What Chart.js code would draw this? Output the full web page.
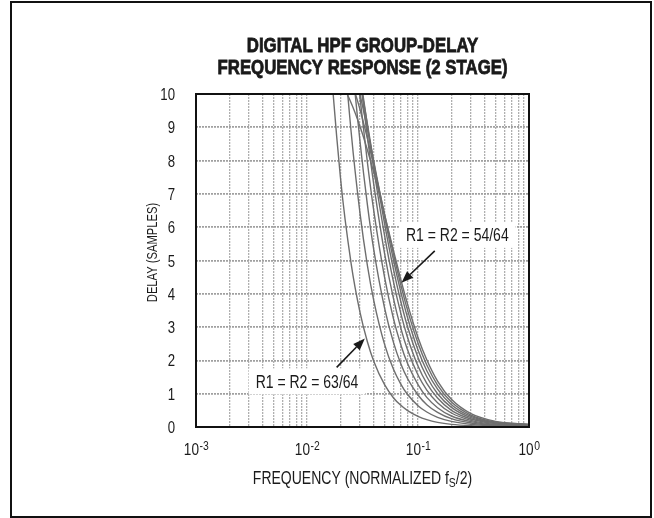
<!DOCTYPE html>
<html>
<head>
<meta charset="utf-8">
<script src="https://cdn.jsdelivr.net/npm/chart.js@4.4.0/dist/chart.umd.min.js"></script>
<style>
  html, body { margin: 0; padding: 0; background: #fff; }
  #wrap { position: relative; width: 654px; height: 518px; }
  #frame { position: absolute; left: 10px; top: 1px; width: 638px; height: 513px; border: 2px solid #111; }
  #myChart { position: absolute; left: 0; top: 0; }
</style>
</head>
<body>
<div id="wrap"><div id="frame"></div><canvas id="myChart" width="654" height="518"></canvas></div>
<script>
// frequency (normalized fs/2) and group delay (samples)
const freq = [0.012, 0.015, 0.02, 0.025, 0.03, 0.035, 0.04, 0.05, 0.06, 0.07, 0.08, 0.1, 0.12, 0.15, 0.2, 0.3, 0.5, 1.0];
const delay54 = [11.2, 10.96, 10.38, 9.73, 9.03, 8.32, 7.64, 6.37, 5.31, 4.43, 3.72, 2.69, 2.02, 1.38, 0.83, 0.4, 0.17, 0.08];
const delay55 = [12.5, 12.1, 11.3, 10.4, 9.54, 8.67, 7.85, 6.39, 5.21, 4.27, 3.54, 2.52, 1.86, 1.26, 0.75, 0.36, 0.15, 0.08];
const delay56 = [13.9, 13.3, 12.3, 11.2, 10.0, 8.95, 7.97, 6.31, 5.03, 4.06, 3.32, 2.31, 1.69, 1.14, 0.67, 0.32, 0.13, 0.07];
const delay57 = [15.6, 14.8, 13.4, 11.8, 10.4, 9.1, 7.95, 6.1, 4.75, 3.77, 3.04, 2.09, 1.51, 1.0, 0.59, 0.28, 0.12, 0.06];
const delay58 = [17.7, 16.5, 14.5, 12.4, 10.6, 9.06, 7.74, 5.75, 4.37, 3.41, 2.72, 1.83, 1.31, 0.87, 0.5, 0.24, 0.1, 0.05];
const delay59 = [20.3, 18.4, 15.4, 12.7, 10.5, 8.71, 7.27, 5.21, 3.87, 2.97, 2.34, 1.56, 1.11, 0.73, 0.42, 0.2, 0.08, 0.04];
const delay60 = [23.1, 20.2, 15.9, 12.5, 9.9, 7.95, 6.48, 4.49, 3.26, 2.47, 1.93, 1.27, 0.89, 0.58, 0.33, 0.16, 0.06, 0.03];
const delay61 = [25.8, 21.2, 15.4, 11.3, 8.59, 6.68, 5.31, 3.57, 2.55, 1.9, 1.47, 0.96, 0.67, 0.44, 0.25, 0.12, 0.05, 0.02];
const delay62 = [26.1, 19.7, 12.8, 8.85, 6.43, 4.85, 3.79, 2.48, 1.74, 1.29, 0.99, 0.64, 0.45, 0.29, 0.17, 0.08, 0.03, 0.02];
const delay63 = [18.9, 12.8, 7.5, 4.9, 3.45, 2.56, 1.97, 1.27, 0.88, 0.65, 0.5, 0.32, 0.22, 0.14, 0.08, 0.04, 0.02, 0.01];
const allDelays = [delay54, delay55, delay56, delay57, delay58, delay59, delay60, delay61, delay62, delay63];

// axis ticks
const yTicks = [0, 1, 2, 3, 4, 5, 6, 7, 8, 9, 10];
const decades = [0.001, 0.01, 0.1, 1];
const decadeExp = ['-3', '-2', '-1', '0'];
const mantissas = [1, 2, 3, 4, 5, 6, 7, 8, 9];
const gridFreqs = decades.slice(0, 3).flatMap(d => mantissas.map(m => m * d)).concat([1]);

const titleLines = ['DIGITAL HPF GROUP-DELAY', 'FREQUENCY RESPONSE (2 STAGE)'];
const yTitle = 'DELAY (SAMPLES)';
const notes = [
  { text: 'R1 = R2 = 54/64', at: [0.226, 5.77], from: [0.1416, 5.29], to: [0.071, 4.33] },
  { text: 'R1 = R2 = 63/64', at: [0.01, 1.37], from: [0.0185, 1.79], to: [0.0332, 2.66] }
];

const FONT = '"Liberation Sans", Arial, sans-serif';
const SQUEEZE = 0.8;   // narrow face look
const INK = '#1a1a1a';

// draws condensed text; returns its drawn width
function say(ctx, str, x, y, size, opt) {
  opt = opt || {};
  ctx.save();
  ctx.font = (opt.bold ? 'bold ' : '') + size + 'px ' + FONT;
  ctx.textAlign = 'left';
  ctx.textBaseline = opt.baseline || 'alphabetic';
  const w = ctx.measureText(str).width * SQUEEZE;
  let left = x;
  if (opt.align === 'center') left = x - w / 2;
  if (opt.align === 'right') left = x - w;
  ctx.translate(left, y);
  ctx.scale(SQUEEZE, 1);
  ctx.fillStyle = INK;
  ctx.fillText(str, 0, 0);
  if (opt.heavy) {
    ctx.strokeStyle = INK;
    ctx.lineWidth = opt.heavy;
    ctx.strokeText(str, 0, 0);
  }
  ctx.restore();
  return w;
}

function textWidth(ctx, str, size) {
  ctx.save();
  ctx.font = size + 'px ' + FONT;
  const w = ctx.measureText(str).width * SQUEEZE;
  ctx.restore();
  return w;
}

const extras = {
  id: 'extras',
  afterDatasetsDraw(chart) {
    const {ctx, chartArea: a, scales: {x, y}} = chart;
    ctx.save();
    notes.forEach(n => {
      const cx = x.getPixelForValue(n.at[0]), cy = y.getPixelForValue(n.at[1]);
      const w = textWidth(ctx, n.text, 17.5);
      ctx.fillStyle = '#fff';
      ctx.fillRect(cx - w / 2 - 7, cy - 13, w + 14, 26);
      say(ctx, n.text, cx, cy + 6.5, 17.5, { align: 'center' });
      const x1 = x.getPixelForValue(n.from[0]), y1 = y.getPixelForValue(n.from[1]);
      const x2 = x.getPixelForValue(n.to[0]), y2 = y.getPixelForValue(n.to[1]);
      const ang = Math.atan2(y2 - y1, x2 - x1);
      const hl = 12, hw = 4.5;
      const bx = x2 - hl * Math.cos(ang), by = y2 - hl * Math.sin(ang);
      ctx.strokeStyle = INK;
      ctx.fillStyle = INK;
      ctx.lineWidth = 1.6;
      ctx.beginPath();
      ctx.moveTo(x1, y1);
      ctx.lineTo(bx, by);
      ctx.stroke();
      ctx.beginPath();
      ctx.moveTo(x2, y2);
      ctx.lineTo(bx + hw * Math.sin(ang), by - hw * Math.cos(ang));
      ctx.lineTo(bx - hw * Math.sin(ang), by + hw * Math.cos(ang));
      ctx.closePath();
      ctx.fill();
    });
    // plot frame
    ctx.strokeStyle = '#111';
    ctx.lineWidth = 2;
    ctx.strokeRect(a.left, a.top, a.right - a.left, a.bottom - a.top);
    ctx.restore();
  },
  afterDraw(chart) {
    const {ctx, chartArea: a, scales: {x, y}} = chart;
    const mid = (a.left + a.right) / 2;
    // title
    say(ctx, titleLines[0], mid, 52, 21, { bold: true, align: 'center', heavy: 0.8 });
    say(ctx, titleLines[1], mid, 74, 21, { bold: true, align: 'center', heavy: 0.8 });
    // y tick labels
    yTicks.forEach(v => {
      say(ctx, String(v), a.left - 21, y.getPixelForValue(v) + 6, 16.5, { align: 'right' });
    });
    // y title, rotated
    ctx.save();
    ctx.translate(157, (a.top + a.bottom) / 2 - 8);
    ctx.rotate(-Math.PI / 2);
    say(ctx, yTitle, 0, 0, 14, { align: 'center' });
    ctx.restore();
    // x tick labels 10^n
    decades.forEach((v, i) => {
      const px = x.getPixelForValue(v);
      const w1 = textWidth(ctx, '10', 17);
      const w2 = textWidth(ctx, decadeExp[i], 13);
      const left = px - (w1 + w2) / 2;
      say(ctx, '10', left, a.bottom + 28, 17);
      say(ctx, decadeExp[i], left + w1 + 0.5, a.bottom + 23, 13);
    });
    // x axis title with subscript S
    const parts = [['FREQUENCY (NORMALIZED f', 17.5, 0], ['S', 13, 3.5], ['/2)', 17.5, 0]];
    let total = 0;
    parts.forEach(p => { p.push(textWidth(ctx, p[0], p[1])); total += p[3]; });
    let px = mid - total / 2;
    parts.forEach(p => {
      say(ctx, p[0], px, a.bottom + 56.5 + p[2], p[1]);
      px += p[3];
    });
  }
};

new Chart(document.getElementById('myChart').getContext('2d'), {
  type: 'line',
  data: {
    datasets: allDelays.map(d => ({
      data: freq.map((f, i) => ({ x: f, y: d[i] })),
      borderColor: '#6e6e6e',
      borderWidth: 1.4,
      pointRadius: 0,
      fill: false,
      cubicInterpolationMode: 'monotone'
    }))
  },
  options: {
    responsive: false,
    animation: false,
    layout: { padding: { left: 0, right: 125, top: 94, bottom: 0 } },
    plugins: {
      legend: { display: false },
      tooltip: { enabled: false },
      title: { display: false }
    },
    scales: {
      x: {
        type: 'logarithmic',
        min: 0.001,
        max: 1,
        afterBuildTicks: s => { s.ticks = gridFreqs.map(v => ({ value: v })); },
        ticks: { display: false, autoSkip: false },
        grid: { color: '#b0b0b0', lineWidth: 1.3, drawTicks: false },
        border: { display: false, dash: [2, 1] },
        afterFit: s => { s.height = 91; }
      },
      y: {
        min: 0,
        max: 10,
        ticks: { display: false, stepSize: 1 },
        grid: { color: '#a0a0a0', lineWidth: 1.8, drawTicks: false },
        border: { display: false, dash: [2, 1] },
        afterFit: s => { s.width = 196; }
      }
    }
  },
  plugins: [extras]
});
</script>
</body>
</html>
